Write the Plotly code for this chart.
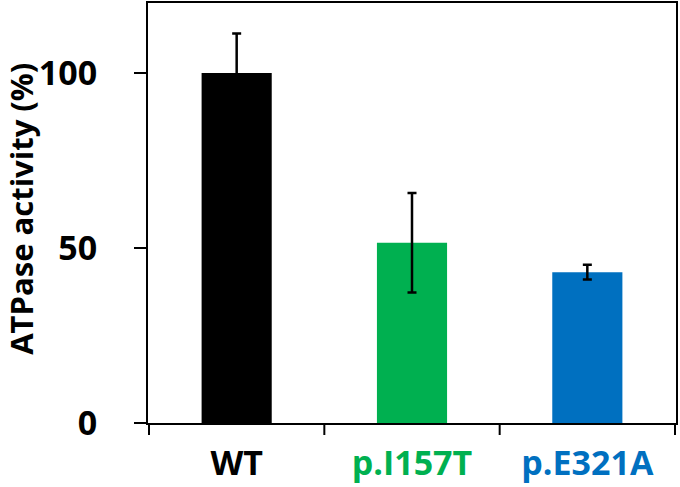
import plotly.graph_objects as go

categories = ["WT", "p.I157T", "p.E321A"]
values = [100, 51.5, 43.1]
errors = [11.3, 14.2, 2.1]
bar_colors = ["#000000", "#00B050", "#0070C0"]
y_ticks = [0, 50, 100]

FONT = "Open Sans"

fig = go.Figure(go.Bar(
    x=categories, y=values,
    marker=dict(color=bar_colors, line=dict(width=0)),
    error_y=dict(type="data", array=errors, visible=True, color="black",
                 thickness=2.5, width=4.5),
    width=0.4,
))

tick_text = [f'<span style="color:{c}">{t}</span>' for t, c in zip(categories, bar_colors)]

fig.update_layout(
    width=680, height=487,
    margin=dict(l=148, r=4, t=3, b=64),
    plot_bgcolor="white", paper_bgcolor="white",
    showlegend=False,
    font=dict(family=FONT, size=34, color="black", weight=700),
    xaxis=dict(
        tickmode="array", tickvals=categories, ticktext=tick_text,
        showline=True, linecolor="black", linewidth=2, mirror=True,
        ticks="", showgrid=False, zeroline=False,
        ticklabelstandoff=9, automargin=False,
    ),
    yaxis=dict(
        range=[0, 120], tickvals=y_ticks,
        showline=True, linecolor="black", linewidth=2, mirror=True,
        ticks="outside", ticklen=12, tickwidth=2, tickcolor="black",
        showgrid=False, zeroline=False,
        ticklabelstandoff=30, automargin=False,
    ),
)

# category-boundary ticks on the x axis
for i in range(len(categories) + 1):
    fig.add_shape(type="line", xref="x", yref="paper",
                  x0=i - 0.5, x1=i - 0.5, y0=0, y1=-12 / 420,
                  line=dict(color="black", width=2))

fig.add_annotation(
    text="ATPase activity (%)", textangle=-90,
    xref="paper", yref="paper", x=(21 - 148) / 528, y=0.51,
    xanchor="center", yanchor="middle", showarrow=False,
    font=dict(family=FONT, size=31, color="black", weight=700),
)

fig.write_html("out.html", config={"displayModeBar": False},
               post_script="document.body.style.margin='0';")
